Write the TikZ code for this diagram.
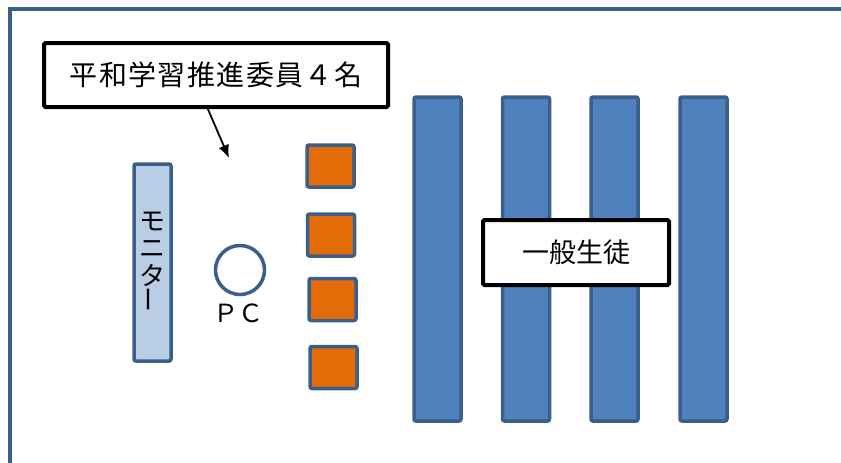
\documentclass[tikz,border=0pt]{standalone}
\usepackage{fontspec}
\newfontfamily\jpfont{Noto Sans CJK JP}
\newfontfamily\jpwide[LetterSpace=5]{Noto Sans CJK JP}
\usetikzlibrary{arrows.meta}
\definecolor{seatline}{HTML}{3A5F8B}
\definecolor{seatblue}{HTML}{4F81BD}
\definecolor{monblue}{HTML}{B9CDE5}
\definecolor{deskorange}{HTML}{E36C09}
\tikzset{
  labelbox/.style={draw=black,line width=4pt,fill=white,rounded corners=1.5pt,
    font=\jpfont\fontsize{27}{30}\selectfont,inner sep=0pt},
  row/.style={draw=seatline,line width=3.5pt,fill=seatblue,rounded corners=2pt,
    minimum width=47,minimum height=324,inner sep=0pt},
  desk/.style={draw=seatline,line width=3.5pt,fill=deskorange,rounded corners=2pt,
    minimum width=47,minimum height=42,inner sep=0pt}
}
\begin{document}
\begin{tikzpicture}[x=1pt,y=-1pt]
  \useasboundingbox (0,0) rectangle (841,463);
  \draw[seatline,line width=4pt] (9.5,480) -- (9.5,9) -- (860,9);
  % monitor and pc
  \node[draw=seatline,line width=3.5pt,fill=monblue,rounded corners=2pt,
    minimum width=37,minimum height=197,inner sep=0pt,align=center,
    font=\jpfont\fontsize{26}{27.5}\selectfont] (monitor) at (152.5,262.5)
    {モ\\ニ\\タ\\\rotatebox{90}{ー}};
  \node[circle,draw=seatline,line width=3.5pt,fill=white,minimum size=49,inner sep=0pt]
    (pc) at (240,270) {};
  \node[font=\jpfont\fontsize{25}{27}\selectfont,inner sep=0pt] (pclabel) at (238,313) {ＰＣ};
  % committee desks
  \node[desk] (d1) at (330.5,166) {};
  \node[desk] (d2) at (331,235) {};
  \node[desk] (d3) at (332.5,299.5) {};
  \node[desk] (d4) at (333.5,367.5) {};
  % students
  \foreach \x [count=\i] in {437.5,526,614.5,703.5}
    \node[row] (r\i) at (\x,259) {};
  \node[labelbox,minimum width=186,minimum height=65] (students) at (576,252.5) {一般生徒};
  \node[labelbox,minimum width=344,minimum height=64,
    font=\jpwide\fontsize{28}{30}\selectfont] (committee) at (216,75) {平和学習推進委員４名};
  \coordinate (target) at (229,158);
  \draw[line width=1.8pt,-{Latex[length=13pt,width=11pt]}] (207,107) -- (target);
\end{tikzpicture}
\end{document}
